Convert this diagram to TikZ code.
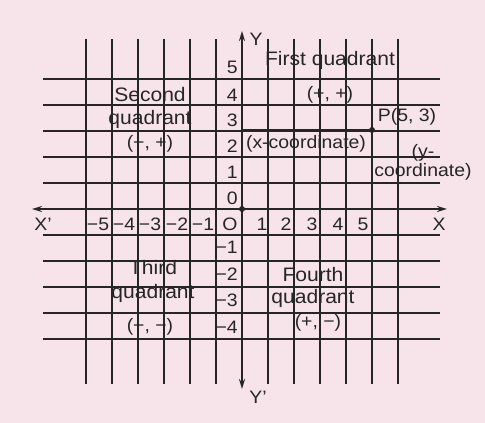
\documentclass[tikz,border=0pt]{standalone}
\usepackage{fontspec}
\setmainfont[FakeStretch=1.08]{Liberation Sans}
\usetikzlibrary{arrows.meta}
\definecolor{bgpink}{HTML}{F7E3EA}
\definecolor{ink}{HTML}{262626}
\begin{document}
\begin{tikzpicture}[x=1pt,y=-1pt,
  gridline/.style={draw=ink,line width=1.2pt},
  axisline/.style={draw=ink,line width=1.9pt},
  pline/.style={draw=ink,line width=1.7pt},
  lab/.style={inner sep=0pt,text=ink,font=\fontsize{18}{21}\selectfont},
  biglab/.style={lab,font=\fontsize{19.5}{22}\selectfont},
  ylab/.style={lab,anchor=east},
  dotnode/.style={circle,fill=ink,inner sep=0pt,minimum size=6pt}]
\fill[bgpink] (0,0) rectangle (485,423);
\useasboundingbox (0,0) rectangle (485,423);
% grid
\foreach \k in {-6,...,-1,1,2,...,6}
  \draw[gridline] ({242+26*\k},39) -- ({242+26*\k},384);
\foreach \k in {-5,...,-1,1,2,...,5}
  \draw[gridline] (43,{209-26*\k}) -- (440,{209-26*\k});
% axes
\coordinate (xl) at (32,209);
\coordinate (xr) at (447,209);
\coordinate (yt) at (242,31);
\coordinate (yb) at (242,389);
\draw[axisline,{Stealth[length=10pt,width=6pt]}-{Stealth[length=10pt,width=6pt]}] (xl) -- (xr);
\draw[axisline,{Stealth[length=10pt,width=6pt]}-{Stealth[length=10pt,width=6pt]}] (yt) -- (yb);
% point P
\coordinate (y3) at (242,130);
\coordinate (x5) at (372,209);
\node[dotnode] (P) at (372,130) {};
\node[dotnode] (O) at (242,209) {};
\draw[pline] (y3) -- (P);
\draw[pline] (P) -- (x5);
% axis names
\node[lab] (X) at (439,224) {X};
\node[lab] (Xp) at (43,224) {X’};
\node[lab] (Y) at (256,39) {Y};
\node[lab] (Yp) at (258,397) {Y’};
% x numbers
\node[lab] (xm5) at (98,224) {−5};
\node[lab] (xm4) at (124,224) {−4};
\node[lab] (xm3) at (150,224) {−3};
\node[lab] (xm2) at (177,224) {−2};
\node[lab] (xm1) at (203,224) {−1};
\node[lab] (xO) at (230,224) {O};
\node[lab] (x1) at (262,224) {1};
\node[lab] (x2) at (286,224) {2};
\node[lab] (x3) at (312,224) {3};
\node[lab] (x4) at (338,224) {4};
\node[lab] (x5l) at (363,224) {5};
% y numbers
\node[ylab] (y5l) at (238,67) {5};
\node[ylab] (y4l) at (238,95) {4};
\node[ylab] (y3l) at (238,120) {3};
\node[ylab] (y2l) at (238,146) {2};
\node[ylab] (y1l) at (238,172) {1};
\node[ylab] (y0l) at (238,198) {0};
\node[ylab] (ym1) at (238,247) {−1};
\node[ylab] (ym2) at (238,274) {−2};
\node[ylab] (ym3) at (238,300) {−3};
\node[ylab] (ym4) at (238,327) {−4};
% texts
\node[biglab] (q1) at (330,60) {First quadrant};
\node[lab] (q1s) at (330,95) {(+, +)};
\node[lab] (Pl) at (407,117) {P(5, 3)};
\node[lab] (xc) at (306,144) {(x-coordinate)};
\node[lab] (yc1) at (423,153) {(y-};
\node[lab] (yc2) at (423,172) {coordinate)};
\node[biglab] (q2a) at (150,95) {Second};
\node[biglab] (q2b) at (150,119) {quadrant};
\node[lab] (q2s) at (150,144) {(−, +)};
\node[biglab] (q3a) at (153,268) {Third};
\node[biglab] (q3b) at (153,293) {quadrant};
\node[lab] (q3s) at (150,327) {(−, −)};
\node[biglab] (q4a) at (313,275) {Fourth};
\node[biglab] (q4b) at (313,298) {quadrant};
\node[lab] (q4s) at (318,323) {(+, −)};
\end{tikzpicture}
\end{document}
